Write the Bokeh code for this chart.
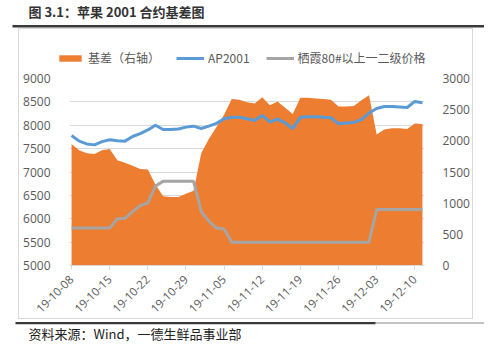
from math import pi
from bokeh.plotting import figure
from bokeh.layouts import column, row
from bokeh.models import (Range1d, LinearAxis, FixedTicker, Legend, LegendItem,
                          Label, BoxAnnotation, ColumnDataSource, Spacer)
from bokeh.embed import file_html
from bokeh.resources import INLINE

# ---------------- data ----------------
dates = ["19-10-08", "19-10-09", "19-10-10", "19-10-11", "19-10-14", "19-10-15",
         "19-10-16", "19-10-17", "19-10-18", "19-10-21", "19-10-22", "19-10-23",
         "19-10-24", "19-10-25", "19-10-28", "19-10-29", "19-10-30", "19-10-31",
         "19-11-01", "19-11-04", "19-11-05", "19-11-06", "19-11-07", "19-11-08",
         "19-11-11", "19-11-12", "19-11-13", "19-11-14", "19-11-15", "19-11-18",
         "19-11-19", "19-11-20", "19-11-21", "19-11-22", "19-11-25", "19-11-26",
         "19-11-27", "19-11-28", "19-11-29", "19-12-02", "19-12-03", "19-12-04",
         "19-12-05", "19-12-06", "19-12-09", "19-12-10", "19-12-11"]

ap2001 = [7780, 7660, 7600, 7580, 7650, 7690, 7670, 7660, 7760, 7820,
          7900, 8000, 7910, 7910, 7920, 7960, 7980, 7930, 7980, 8040,
          8140, 8170, 8170, 8140, 8100, 8210, 8070, 8130, 8050, 7930,
          8170, 8180, 8180, 8170, 8160, 8030, 8050, 8060, 8120, 8260,
          8360, 8400, 8400, 8390, 8380, 8510, 8480]

spot = [5800, 5800, 5800, 5800, 5800, 5800, 6000, 6010, 6150, 6280,
        6340, 6700, 6800, 6800, 6800, 6800, 6800, 6150, 5950, 5800,
        5780, 5500, 5500, 5500, 5500, 5500, 5500, 5500, 5500, 5500,
        5500, 5500, 5500, 5500, 5500, 5500, 5500, 5500, 5500, 5500,
        6200, 6200, 6200, 6200, 6200, 6200, 6200]

basis = [1950, 1850, 1800, 1790, 1850, 1870, 1690, 1650, 1600, 1550,
         1540, 1300, 1110, 1100, 1100, 1150, 1200, 1800, 2030, 2220,
         2420, 2670, 2660, 2620, 2600, 2700, 2570, 2630, 2530, 2430,
         2690, 2690, 2680, 2670, 2660, 2550, 2550, 2560, 2650, 2730,
         2100, 2180, 2200, 2200, 2190, 2280, 2270]

label_idx = [0, 5, 10, 15, 20, 25, 30, 35, 40, 45]
left_ticks = [5000, 5500, 6000, 6500, 7000, 7500, 8000, 8500, 9000]
right_ticks = [0, 500, 1000, 1500, 2000, 2500, 3000]

title_text = "图 3.1：苹果 2001 合约基差图"
source_text = "资料来源：Wind，一德生鲜品事业部"
legend_labels = ["基差（右轴）", "AP2001", "栖霞80#以上一二级价格"]

ORANGE = "#ED7D31"
BLUE = "#5B9BD5"
GRAY = "#A5A5A5"
TXT = "#595959"
GRID = "#D9D9D9"
RULE = "#3A3A3A"
CJK = "Noto Sans CJK SC"
NUM = "Open Sans"

W = 484
BOX_W = 455
NAN = float("nan")


def strip(width, height, styles=None):
    kw = {} if styles is None else {"styles": styles}
    f = figure(width=width, height=height, output_backend="svg", toolbar_location=None,
               x_range=Range1d(0, width), y_range=Range1d(height, 0),
               x_axis_location=None, y_axis_location=None, min_border=0, **kw)
    f.grid.grid_line_color = None
    f.outline_line_color = None
    f.background_fill_color = "white"
    f.border_fill_color = "white"
    return f


# ---------------- title strip ----------------
top = strip(W, 28)
top.add_layout(Label(x=28, y=11, text=title_text, text_font=CJK, text_font_size="13px",
                     text_font_style="bold", text_color="#333333",
                     text_baseline="middle", text_align="left"))
top.add_layout(BoxAnnotation(left=12, right=W, top=24.5, bottom=27, fill_color=RULE,
                             fill_alpha=1, line_color=None))

# ---------------- legend strip (top of the chart box) ----------------
leg = strip(BOX_W, 40, styles={"border": "1px solid #D9D9D9", "border-bottom": "none",
                               "box-sizing": "border-box"})
# legend keys only: one undefined (NaN) point each, so nothing is drawn in the strip
key_src = ColumnDataSource(dict(x=[NAN], y=[NAN]))
k_area = leg.varea(x="x", y1=0, y2="y", source=key_src, fill_color=ORANGE, fill_alpha=1)
k_ap = leg.line(x="x", y="y", source=key_src, line_color=BLUE, line_width=3)
k_spot = leg.line(x="x", y="y", source=key_src, line_color=GRAY, line_width=3)
legend = Legend(items=[LegendItem(label=legend_labels[0], renderers=[k_area]),
                       LegendItem(label=legend_labels[1], renderers=[k_ap]),
                       LegendItem(label=legend_labels[2], renderers=[k_spot])],
                location=(37, 3), orientation="horizontal",
                border_line_color=None, background_fill_alpha=0,
                padding=0, margin=0, spacing=16, glyph_width=28, glyph_height=8,
                label_standoff=4, label_height=16,
                label_text_font=CJK, label_text_font_size="12px",
                label_text_color=TXT)
leg.add_layout(legend)

# ---------------- main chart ----------------
src = ColumnDataSource(dict(x=list(range(len(dates))), ap=ap2001, spot=spot, basis=basis))

p = figure(width=BOX_W, height=251, output_backend="svg", toolbar_location=None,
           x_range=Range1d(-0.27, len(dates) - 1 + 0.27),
           y_range=Range1d(left_ticks[0], left_ticks[-1]),
           min_border_left=50, min_border_right=50, min_border_top=10,
           min_border_bottom=54,
           styles={"border": "1px solid #D9D9D9", "border-top": "none",
                   "box-sizing": "border-box"})
p.outline_line_color = None
p.background_fill_color = "white"
p.border_fill_color = "white"
p.extra_y_ranges = {"right": Range1d(right_ticks[0], right_ticks[-1])}

p.xaxis.ticker = FixedTicker(ticks=label_idx)
p.xaxis.major_label_overrides = {i: dates[i] for i in label_idx}
p.xaxis.major_label_orientation = pi / 4
p.xaxis.axis_line_color = GRID
p.xaxis.major_tick_line_color = GRID
p.xaxis.major_tick_out = 4
p.xaxis.major_tick_in = 0
p.xaxis.minor_tick_line_color = None
p.xaxis.major_label_text_color = TXT
p.xaxis.major_label_text_font = NUM
p.xaxis.major_label_text_font_size = "11.5px"
p.xaxis.major_label_standoff = 8

p.yaxis.ticker = FixedTicker(ticks=left_ticks)
p.yaxis.axis_line_color = None
p.yaxis.major_tick_line_color = None
p.yaxis.minor_tick_line_color = None
p.yaxis.major_label_text_color = TXT
p.yaxis.major_label_text_font = NUM
p.yaxis.major_label_text_font_size = "12px"
p.yaxis.major_label_standoff = 13

raxis = LinearAxis(y_range_name="right", ticker=FixedTicker(ticks=right_ticks))
raxis.axis_line_color = None
raxis.major_tick_line_color = None
raxis.minor_tick_line_color = None
raxis.major_label_text_color = TXT
raxis.major_label_text_font = NUM
raxis.major_label_text_font_size = "12px"
raxis.major_label_standoff = 12
p.add_layout(raxis, "right")

p.xgrid.grid_line_color = None
p.ygrid.grid_line_color = GRID
p.ygrid.grid_line_width = 1

p.varea(x="x", y1=0, y2="basis", source=src, y_range_name="right",
        fill_color=ORANGE, fill_alpha=1)
p.line(x="x", y="ap", source=src, line_color=BLUE, line_width=3)
p.line(x="x", y="spot", source=src, line_color=GRAY, line_width=3)

# ---------------- source strip ----------------
bot = strip(W, 23)
bot.add_layout(BoxAnnotation(left=15, right=375, top=2.5, bottom=4.8, fill_color=RULE,
                             fill_alpha=1, line_color=None))
bot.add_layout(BoxAnnotation(left=375, right=W, top=3.6, bottom=3.6, fill_alpha=0,
                             line_color=RULE, line_width=2, line_dash="5 2"))
bot.add_layout(Label(x=28, y=13.5, text=source_text, text_font=CJK, text_font_size="13px",
                     text_color="#222222", text_baseline="middle", text_align="left"))

layout = column(top,
                row(Spacer(width=18, height=40), leg),
                row(Spacer(width=18, height=251), p),
                bot)

open("out.html", "w").write(file_html(layout, INLINE))
